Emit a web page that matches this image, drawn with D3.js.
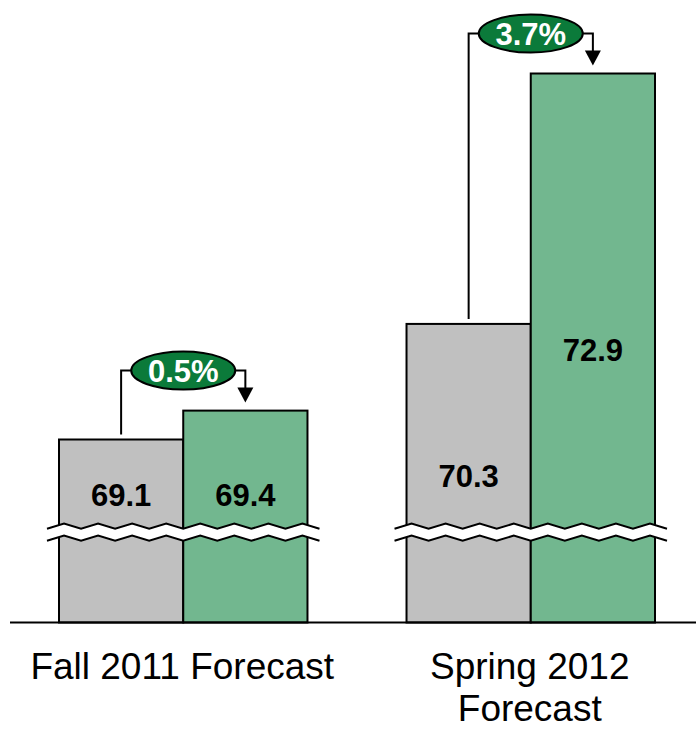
<!DOCTYPE html>
<html>
<head>
<meta charset="utf-8">
<script src="https://cdn.jsdelivr.net/npm/d3@7"></script>
<style>
  html, body { margin: 0; padding: 0; background: #fff; }
  svg { display: block; }
  text { font-family: "Liberation Sans", Arial, Helvetica, sans-serif; }
</style>
</head>
<body>
<div id="chart"></div>
<script>
// Forecast groups and their two-line axis captions
const groups = ["Fall 2011", "Spring 2012"];
const groupCaptions = [["Fall 2011 Forecast"], ["Spring 2012", "Forecast"]];
const seriesKeys = ["previous", "current"];
const previousValues = [69.1, 70.3];
const currentValues = [69.4, 72.9];
const changeLabels = ["0.5%", "3.7%"];
const valueDomain = [67.2, 72.9];
const breakValue = 68.2;

const W = 696, H = 729;
const colors = { previous: "#c0c0c0", current: "#72b78f", badge: "#0b7a3a" };
// text baselines for the value labels inside each bar
const labelBaseline = { previous: [506, 487], current: [506, 361] };

const svg = d3.select("#chart").append("svg")
  .attr("width", W).attr("height", H);

const x = d3.scaleBand().domain(groups).range([59, 655])
  .paddingInner(0.285).paddingOuter(0);
const xs = d3.scaleBand().domain(seriesKeys).range([0, x.bandwidth()]).padding(0);
const y = d3.scaleLinear().domain(valueDomain).range([622.5, 73.5]);

const rows = groups.map((g, i) => ({
  group: g,
  i,
  previous: previousValues[i],
  current: currentValues[i],
  change: changeLabels[i]
}));

const gGroups = svg.selectAll("g.group").data(rows).join("g")
  .attr("class", "group")
  .attr("transform", d => `translate(${x(d.group)},0)`);

// bars
gGroups.selectAll("rect.bar")
  .data(d => seriesKeys.map(k => ({ key: k, value: d[k], i: d.i })))
  .join("rect")
  .attr("class", "bar")
  .attr("x", d => xs(d.key))
  .attr("width", xs.bandwidth())
  .attr("y", d => y(d.value))
  .attr("height", d => y(valueDomain[0]) - y(d.value))
  .attr("fill", d => colors[d.key])
  .attr("stroke", "#000")
  .attr("stroke-width", 2);

// axis break: white band bounded by two zigzag lines
const gap = 12, amp = 2.6, overhang = 12, halfSteps = 16;
function zigzag(yc) {
  const x0 = -overhang, x1 = x.bandwidth() + overhang;
  const dx = (x1 - x0) / halfSteps;
  return d3.range(halfSteps + 1).map(j => [x0 + j * dx, yc + (j % 2 === 0 ? amp : -amp)]);
}
const yBreak = y(breakValue);
const upper = zigzag(yBreak);
const lower = zigzag(yBreak + gap);
const line = d3.line();
gGroups.append("path")
  .attr("d", line(upper.concat(lower.slice().reverse())) + "Z")
  .attr("fill", "#fff");
gGroups.append("path").attr("d", line(upper))
  .attr("fill", "none").attr("stroke", "#000").attr("stroke-width", 2);
gGroups.append("path").attr("d", line(lower))
  .attr("fill", "none").attr("stroke", "#000").attr("stroke-width", 2);

// value labels
gGroups.selectAll("text.value")
  .data(d => seriesKeys.map(k => ({ key: k, value: d[k], i: d.i })))
  .join("text")
  .attr("class", "value")
  .attr("x", d => xs(d.key) + xs.bandwidth() / 2)
  .attr("y", d => labelBaseline[d.key][d.i])
  .attr("text-anchor", "middle")
  .attr("font-size", 31)
  .attr("font-weight", "bold")
  .attr("fill", "#000")
  .text(d => d.value.toFixed(1));

// change connectors: from previous bar up to badge, then down with arrow to current bar
const rx = 52, ry = 19;
gGroups.each(function (d) {
  const g = d3.select(this);
  const cx = x.bandwidth() / 2;
  const cy = y(d.current) - 40;
  const xPrev = xs("previous") + xs.bandwidth() / 2;
  const xCur = xs("current") + xs.bandwidth() / 2;
  const tipY = y(d.current) - 8;
  const headH = 15, headW = 8;
  g.append("path")
    .attr("d", `M${xPrev},${y(d.previous) - 5}V${cy}H${cx - rx}`)
    .attr("fill", "none").attr("stroke", "#000").attr("stroke-width", 2);
  g.append("path")
    .attr("d", `M${cx + rx},${cy}H${xCur}V${tipY - headH + 1}`)
    .attr("fill", "none").attr("stroke", "#000").attr("stroke-width", 2);
  g.append("path")
    .attr("d", `M${xCur - headW},${tipY - headH}L${xCur + headW},${tipY - headH}L${xCur},${tipY}Z`)
    .attr("fill", "#000");
  g.append("ellipse")
    .attr("cx", cx).attr("cy", cy).attr("rx", rx).attr("ry", ry)
    .attr("fill", colors.badge).attr("stroke", "#000").attr("stroke-width", 2);
  g.append("text")
    .attr("x", cx).attr("y", cy + 11)
    .attr("text-anchor", "middle")
    .attr("font-size", 31)
    .attr("font-weight", "bold")
    .attr("fill", "#fff")
    .text(d.change);
});

// baseline
svg.append("line")
  .attr("x1", 10).attr("x2", W)
  .attr("y1", y(valueDomain[0])).attr("y2", y(valueDomain[0]))
  .attr("stroke", "#000").attr("stroke-width", 2);

// category captions
rows.forEach(d => {
  const t = svg.append("text")
    .attr("x", x(d.group) + x.bandwidth() / 2 - 1)
    .attr("y", 679)
    .attr("text-anchor", "middle")
    .attr("font-size", 37)
    .attr("fill", "#000");
  groupCaptions[d.i].forEach((s, k) => {
    t.append("tspan")
      .attr("x", x(d.group) + x.bandwidth() / 2 - 1)
      .attr("dy", k === 0 ? 0 : 42)
      .text(s);
  });
});
</script>
</body>
</html>
